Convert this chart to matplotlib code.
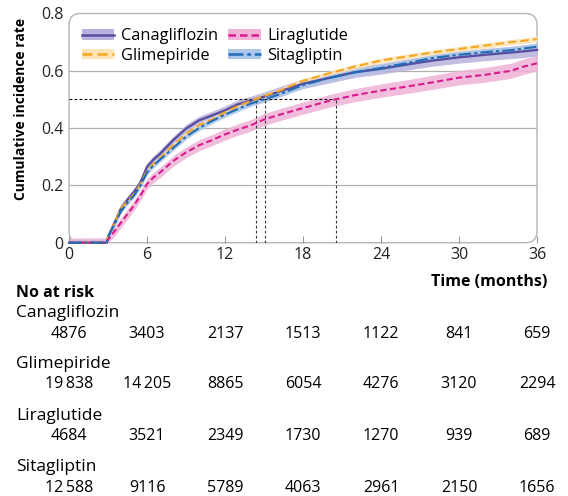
import numpy as np
import matplotlib.pyplot as plt
from matplotlib.patches import FancyBboxPatch, Patch
from matplotlib.lines import Line2D

plt.rcParams['font.family'] = ['Open Sans', 'DejaVu Sans']

# ---- data ----
months = [0, 2.9, 3.0, 3.5, 4, 4.5, 5, 5.5, 6, 6.5, 7, 8, 9, 10, 11, 12, 13, 14, 15, 16,
          18, 20, 22, 24, 26, 28, 30, 32, 34, 35, 36]

cana = [0, 0, 0.02, 0.07, 0.12, 0.15, 0.177, 0.21, 0.265, 0.29, 0.31, 0.357, 0.398, 0.427, 0.444,
        0.462, 0.483, 0.496, 0.51, 0.525, 0.555, 0.575, 0.595, 0.607, 0.622, 0.636, 0.647, 0.656,
        0.664, 0.668, 0.673]
glim = [0, 0, 0.02, 0.07, 0.12, 0.145, 0.17, 0.205, 0.25, 0.275, 0.295, 0.34, 0.38, 0.41, 0.43,
        0.455, 0.477, 0.495, 0.512, 0.527, 0.565, 0.591, 0.615, 0.636, 0.65, 0.664, 0.676, 0.688,
        0.70, 0.705, 0.711]
lira = [0, 0, 0.01, 0.04, 0.07, 0.10, 0.13, 0.165, 0.205, 0.228, 0.245, 0.285, 0.315, 0.34, 0.358,
        0.378, 0.395, 0.41, 0.43, 0.444, 0.47, 0.495, 0.515, 0.531, 0.545, 0.56, 0.576, 0.586,
        0.60, 0.615, 0.626]
sita = [0, 0, 0.02, 0.065, 0.11, 0.14, 0.165, 0.2, 0.245, 0.27, 0.29, 0.33, 0.37, 0.40, 0.425,
        0.447, 0.467, 0.486, 0.50, 0.515, 0.55, 0.575, 0.595, 0.61, 0.627, 0.645, 0.656, 0.665,
        0.672, 0.678, 0.684]

# half-widths of confidence bands (start, end)
cana_ci = (0.012, 0.022)
glim_ci = (0.006, 0.010)
lira_ci = (0.016, 0.027)
sita_ci = (0.008, 0.013)

medians = [14.4, 15.1, 20.5]

risk_times = [0, 6, 12, 18, 24, 30, 36]
risk_names = ['Canagliflozin', 'Glimepiride', 'Liraglutide', 'Sitagliptin']
risk_counts = [
    ['4876', '3403', '2137', '1513', '1122', '841', '659'],
    ['19\u2009838', '14\u2009205', '8865', '6054', '4276', '3120', '2294'],
    ['4684', '3521', '2349', '1730', '1270', '939', '689'],
    ['12\u2009588', '9116', '5789', '4063', '2961', '2150', '1656'],
]

W, H = 568, 496
fig = plt.figure(figsize=(W / 100, H / 100), dpi=100)
ax = fig.add_axes([69 / W, 1 - 242.7 / H, (537 - 69) / W, (242.7 - 13.5) / H])

series = [
    ('Canagliflozin', cana, cana_ci, '#5a4ea0', '#b9b2dc', '-'),
    ('Glimepiride', glim, glim_ci, '#f5a623', '#fde3b5', (0, (4, 2))),
    ('Liraglutide', lira, lira_ci, '#d81b8c', '#eeb3d6', (0, (3, 1.6))),
    ('Sitagliptin', sita, sita_ci, '#1f6db5', '#abc6e9', (0, (6, 1.5, 1.5, 1.5))),
]

t = np.array(months)
frac = t / t.max()
handles = []
for name, vals, ci, col, band, ls in series:
    v = np.array(vals)
    hw = ci[0] + (ci[1] - ci[0]) * frac
    ax.fill_between(t, np.clip(v - hw, 0, None), v + hw, color=band, lw=0, alpha=0.85, zorder=1)
for name, vals, ci, col, band, ls in series:
    ax.plot(t, vals, color=col, ls=ls, lw=1.7 if ls == '-' else 1.5, zorder=3, clip_on=False)
    handles.append((Patch(facecolor=band, edgecolor='none'),
                    Line2D([], [], color=col, ls=ls, lw=1.8)))

# median reference lines
ax.plot([0, medians[-1]], [0.5, 0.5], color='black', lw=0.8, ls=(0, (2.5, 2)), zorder=2)
for m in medians:
    ax.plot([m, m], [0, 0.5], color='#333333', lw=0.8, ls=(0, (2.5, 2)), zorder=2)

ax.set_xlim(0, 36)
ax.set_ylim(0, 0.8)
for y in [0.2, 0.4, 0.6]:
    ax.axhline(y, color='#b0b0b0', lw=0.9, zorder=0)
for s in ax.spines.values():
    s.set_visible(False)
ax.add_patch(FancyBboxPatch((0, 0), 1, 1, boxstyle='round,pad=0,rounding_size=0.025',
                            transform=ax.transAxes, fill=False, ec='#b5b5b5', lw=1,
                            clip_on=False, zorder=0.5,
                            mutation_aspect=468 / 229))
ax.set_xticks(risk_times)
ax.set_yticks([0, 0.2, 0.4, 0.6, 0.8])
ax.set_yticklabels(['0', '0.2', '0.4', '0.6', '0.8'])
ax.tick_params(axis='x', direction='in', length=5, color='#999999', labelsize=11.5,
               pad=3, labelcolor='#222222')
ax.tick_params(axis='y', length=0, labelsize=11.5, pad=4, labelcolor='#222222')
ax.set_ylabel('Cumulative incidence rate', fontsize=10, fontweight='bold')
ax.yaxis.set_label_coords(-0.088, 0.584)

leg = ax.legend(handles, [s[0] for s in series], ncol=2, loc='upper left',
                bbox_to_anchor=(0.02, 0.95), frameon=False, fontsize=11.8,
                handlelength=2.0, handleheight=0.6, columnspacing=0.6,
                labelspacing=0.22, handletextpad=0.4, borderpad=0.2, borderaxespad=0)

# risk table
fig.text(547 / W, 1 - 282 / H, 'Time (months)', ha='right', va='center',
         fontsize=11.5, fontweight='bold')
fig.text(16 / W, 1 - 293 / H, 'No at risk', ha='left', va='center',
         fontsize=11.5, fontweight='bold')
name_y = [313, 364, 416, 467]
for name, counts, ny in zip(risk_names, risk_counts, name_y):
    fig.text(16 / W, 1 - ny / H, name, ha='left', va='center', fontsize=12.5)
    for tx, c in zip(risk_times, counts):
        xf = fig.transFigure.inverted().transform(ax.transData.transform((tx, 0)))[0]
        fig.text(xf, 1 - (ny + 20.5) / H, c, ha='center', va='center', fontsize=11.5)

fig.savefig('out.png', dpi=100)
